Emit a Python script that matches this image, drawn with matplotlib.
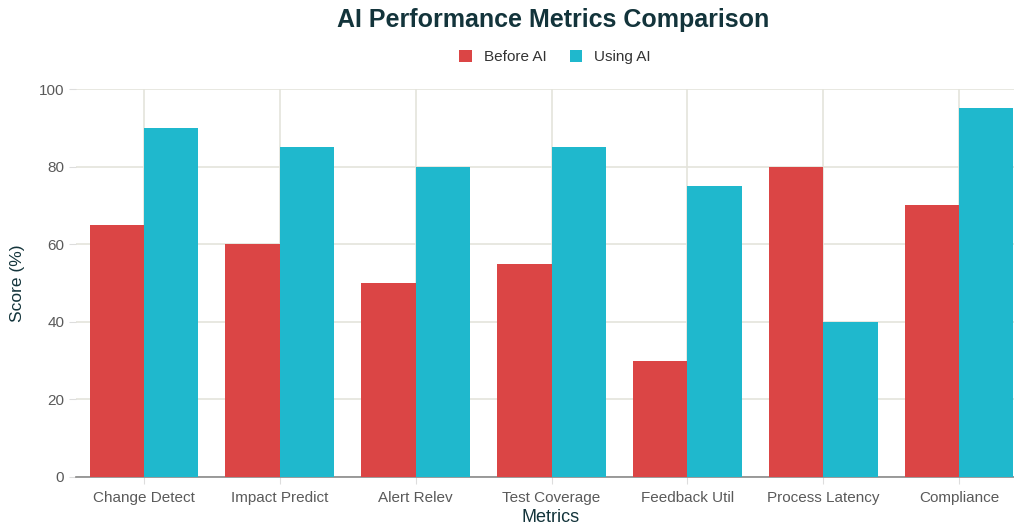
import matplotlib
matplotlib.use("Agg")
import matplotlib.pyplot as plt
import numpy as np

categories = ["Change Detect", "Impact Predict", "Alert Relev", "Test Coverage",
              "Feedback Util", "Process Latency", "Compliance"]
before_ai = [65, 60, 50, 55, 30, 80, 70]
using_ai = [90, 85, 80, 85, 75, 40, 95]
yticks = [0, 20, 40, 60, 80, 100]

plt.rcParams['font.family'] = ['Liberation Sans', 'DejaVu Sans']

fig = plt.figure(figsize=(10.14, 5.27), dpi=100)
ax_l, ax_r, ax_b, ax_t = 76, 1027, 477, 89
ax = fig.add_axes([ax_l/1014, (527-ax_b)/527, (ax_r-ax_l)/1014, (ax_b-ax_t)/527])

x = np.arange(len(categories))
w = 0.4
ax.bar(x - w/2, before_ai, w, color="#DB4545", label="Before AI", zorder=3)
ax.bar(x + w/2, using_ai, w, color="#1FB8CD", label="Using AI", zorder=3)

ax.set_xlim(-0.5, len(categories) - 0.5)
ax.set_ylim(0, 100)
ax.set_yticks(yticks)
ax.set_xticks(x)
ax.set_xticklabels(categories)
ax.grid(True, color="#E4E4DC", linewidth=1.2, zorder=0)
for s in ["top", "right", "left"]:
    ax.spines[s].set_visible(False)
ax.spines["bottom"].set_color("#8A8A8A")
ax.spines["bottom"].set_linewidth(1.2)
ax.tick_params(axis="both", colors="#DDDDDD", labelcolor="#5A5A5A", labelsize=11, length=5)
ax.tick_params(axis="x", pad=5)

W = ax_r - ax_l
H = ax_b - ax_t
ax.set_xlabel("Metrics", fontsize=13, color="#13343B")
ax.xaxis.set_label_coords((551-ax_l)/W, -(518-ax_b)/H)
ax.xaxis.label.set_va("center")
ax.set_ylabel("Score (%)", fontsize=12.5, color="#13343B")
ax.yaxis.set_label_coords(-(ax_l-18)/W, (ax_b-283)/H)
ax.yaxis.label.set_va("center")
fig.text(553/1014, 1 - 20/527, "AI Performance Metrics Comparison", ha="center", va="center",
         fontsize=18, fontweight="bold", color="#13343B")
ax.legend(loc="center", bbox_to_anchor=((555-ax_l)/W, 1 + (ax_t-57)/H), ncol=2,
          frameon=False, fontsize=11, handlelength=0.8, handleheight=0.8, columnspacing=1.5,
          labelcolor="#333333")

fig.savefig("out.png", dpi=100)
